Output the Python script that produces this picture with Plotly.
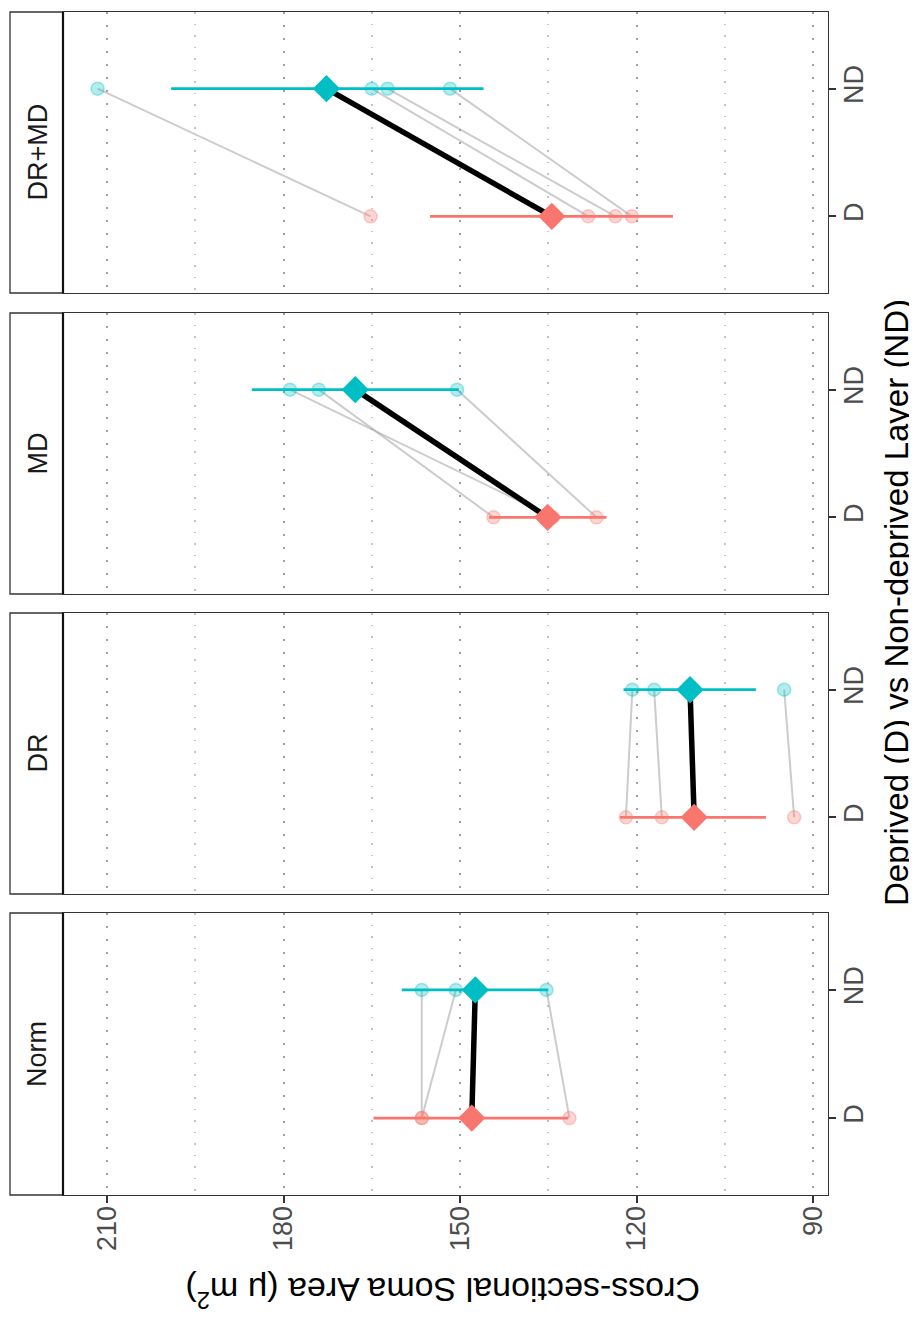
import plotly.graph_objects as go

# ---------------- data ----------------
facets = ["Norm", "DR", "MD", "DR+MD"]
categories = ["D", "ND"]

# individual subjects: value in deprived (D) and non-deprived (ND) layer
norm_D = [156.5, 156.5, 131.4]
norm_ND = [156.5, 150.7, 135.3]
dr_D = [121.8, 115.7, 93.2]
dr_ND = [120.7, 117.0, 94.9]
md_D = [134.2, 144.3, 126.8]
md_ND = [178.9, 174.0, 150.5]
drmd_D = [165.2, 128.2, 123.6, 120.8]
drmd_ND = [211.6, 165.0, 162.3, 151.7]

# group means
mean_D = [148.0, 110.2, 135.1, 134.4]
mean_ND = [147.4, 110.9, 167.8, 172.7]

# error bar limits (low, high)
err_D_low = [131.6, 98.0, 125.1, 113.8]
err_D_high = [164.7, 122.8, 145.1, 155.1]
err_ND_low = [135.0, 99.7, 150.2, 146.0]
err_ND_high = [159.9, 122.2, 185.4, 199.1]

x_ticks = [210, 180, 150, 120, 90]
x_minor = [195, 165, 135, 105]

subj_D = [norm_D, dr_D, md_D, drmd_D]
subj_ND = [norm_ND, dr_ND, md_ND, drmd_ND]

# ---------------- style ----------------
OFF = 8  # page body margin of the html page
W, H = 917 - OFF, 1318 - OFF
RED = "#F8766D"
CYAN = "#00BFC4"
FONT = "Liberation Sans, Arial, sans-serif"


def px(x):
    return (x - OFF) / W


def py(y):
    return 1 - (y - OFF) / H


x_dom = [px(63), px(828)]
# panel pixel extents (top, bottom) for Norm, DR, MD, DR+MD
panel_px = [(913, 1195), (613, 894), (313, 594), (12, 293)]

fig = go.Figure()

for i, name in enumerate(facets):
    xa = "x" if i == 0 else f"x{i+1}"
    ya = "y" if i == 0 else f"y{i+1}"
    # grey subject lines
    lx, ly = [], []
    for d, nd in zip(subj_D[i], subj_ND[i]):
        lx += [d, nd, None]
        ly += [0, 1, None]
    fig.add_trace(go.Scatter(x=lx, y=ly, mode="lines", xaxis=xa, yaxis=ya,
                             line=dict(color="rgba(170,170,170,0.6)", width=2),
                             hoverinfo="skip"))
    # subject points
    fig.add_trace(go.Scatter(x=subj_D[i], y=[0] * len(subj_D[i]), mode="markers",
                             xaxis=xa, yaxis=ya,
                             marker=dict(size=13, color="rgba(248,118,109,0.3)",
                                         line=dict(color="rgba(248,118,109,0.35)", width=1.5))))
    fig.add_trace(go.Scatter(x=subj_ND[i], y=[1] * len(subj_ND[i]), mode="markers",
                             xaxis=xa, yaxis=ya,
                             marker=dict(size=13, color="rgba(0,191,196,0.3)",
                                         line=dict(color="rgba(0,191,196,0.35)", width=1.5))))
    # error bars
    fig.add_trace(go.Scatter(x=[err_D_low[i], err_D_high[i]], y=[0, 0], mode="lines",
                             xaxis=xa, yaxis=ya, line=dict(color=RED, width=2.6)))
    fig.add_trace(go.Scatter(x=[err_ND_low[i], err_ND_high[i]], y=[1, 1], mode="lines",
                             xaxis=xa, yaxis=ya, line=dict(color=CYAN, width=2.6)))
    # mean connecting line
    fig.add_trace(go.Scatter(x=[mean_D[i], mean_ND[i]], y=[0, 1], mode="lines",
                             xaxis=xa, yaxis=ya, line=dict(color="black", width=5.5)))
    # mean diamonds
    fig.add_trace(go.Scatter(x=[mean_D[i], mean_ND[i]], y=[0, 1], mode="markers",
                             xaxis=xa, yaxis=ya,
                             marker=dict(symbol="diamond", size=21, color=[RED, CYAN],
                                         line=dict(width=0))))

layout = dict(
    width=W, height=H,
    margin=dict(l=0, r=0, t=0, b=0, autoexpand=False),
    paper_bgcolor="white", plot_bgcolor="white",
    showlegend=False,
    font=dict(family=FONT),
)

shapes = []
annotations = []
for i, name in enumerate(facets):
    top, bot = panel_px[i]
    y_dom = [py(bot), py(top)]
    xk = "xaxis" if i == 0 else f"xaxis{i+1}"
    yk = "yaxis" if i == 0 else f"yaxis{i+1}"
    ya_ref = "y" if i == 0 else f"y{i+1}"
    xa_ref = "x" if i == 0 else f"x{i+1}"
    bottom = (i == 0)
    layout[xk] = dict(
        domain=x_dom, anchor=ya_ref, range=[217.48, 87.45], automargin=False,
        tickmode="array", tickvals=x_ticks, ticktext=[str(v) for v in x_ticks],
        showticklabels=bottom, ticks="outside" if bottom else "",
        ticklen=7, tickwidth=2, tickcolor="#333333", ticklabelstandoff=-8,
        tickangle=-90, tickfont=dict(size=27, color="#4D4D4D", family=FONT),
        showgrid=True, gridcolor="#A0A0A0", gridwidth=2, griddash="2px,11px",
        minor=dict(tickmode="array", tickvals=x_minor, showgrid=True,
                   gridcolor="#C4C4C4", gridwidth=1.5, griddash="1.5px,10px", ticks=""),
        zeroline=False, showline=True, mirror=True, linecolor="#333333", linewidth=1.3,
    )
    layout[yk] = dict(
        domain=y_dom, anchor=xa_ref, range=[-0.6, 1.6], side="right", automargin=False,
        tickmode="array", tickvals=[0, 1], ticktext=categories,
        ticks="outside", ticklen=7, tickwidth=2, tickcolor="#333333", ticklabelstandoff=-6,
        tickangle=-90, tickfont=dict(size=27, color="#4D4D4D", family=FONT),
        showgrid=False, zeroline=False, showline=True, mirror=True,
        linecolor="#333333", linewidth=1.3,
    )
    shapes.append(dict(type="rect", xref="paper", yref="paper",
                       x0=px(10), x1=px(63), y0=y_dom[0], y1=y_dom[1],
                       fillcolor="white", line=dict(color="#333333", width=1.3),
                       layer="below"))
    shapes.append(dict(type="line", xref="paper", yref="paper",
                       x0=px(63), x1=px(63), y0=y_dom[0], y1=y_dom[1],
                       line=dict(color="#111111", width=2.2)))
    annotations.append(dict(text=name, xref="paper", yref="paper",
                            x=px(37), y=(y_dom[0] + y_dom[1]) / 2, showarrow=False,
                            textangle=-90, font=dict(size=27, color="#1A1A1A", family=FONT),
                            xanchor="center", yanchor="middle"))

annotations.append(dict(text="Deprived (D) vs Non-deprived Layer (ND)", xref="paper", yref="paper",
                        x=px(897), y=py(603), showarrow=False, textangle=-90,
                        font=dict(size=33, color="black", family=FONT),
                        xanchor="center", yanchor="middle"))
annotations.append(dict(text="Cross-sectional Soma Area (μ m<sup>2</sup>)", xref="paper", yref="paper",
                        x=px(443), y=py(1293), showarrow=False, textangle=180,
                        font=dict(size=34, color="black", family=FONT),
                        xanchor="center", yanchor="middle"))

layout["shapes"] = shapes
layout["annotations"] = annotations
fig.update_layout(**layout)

fig.write_html("out.html")
